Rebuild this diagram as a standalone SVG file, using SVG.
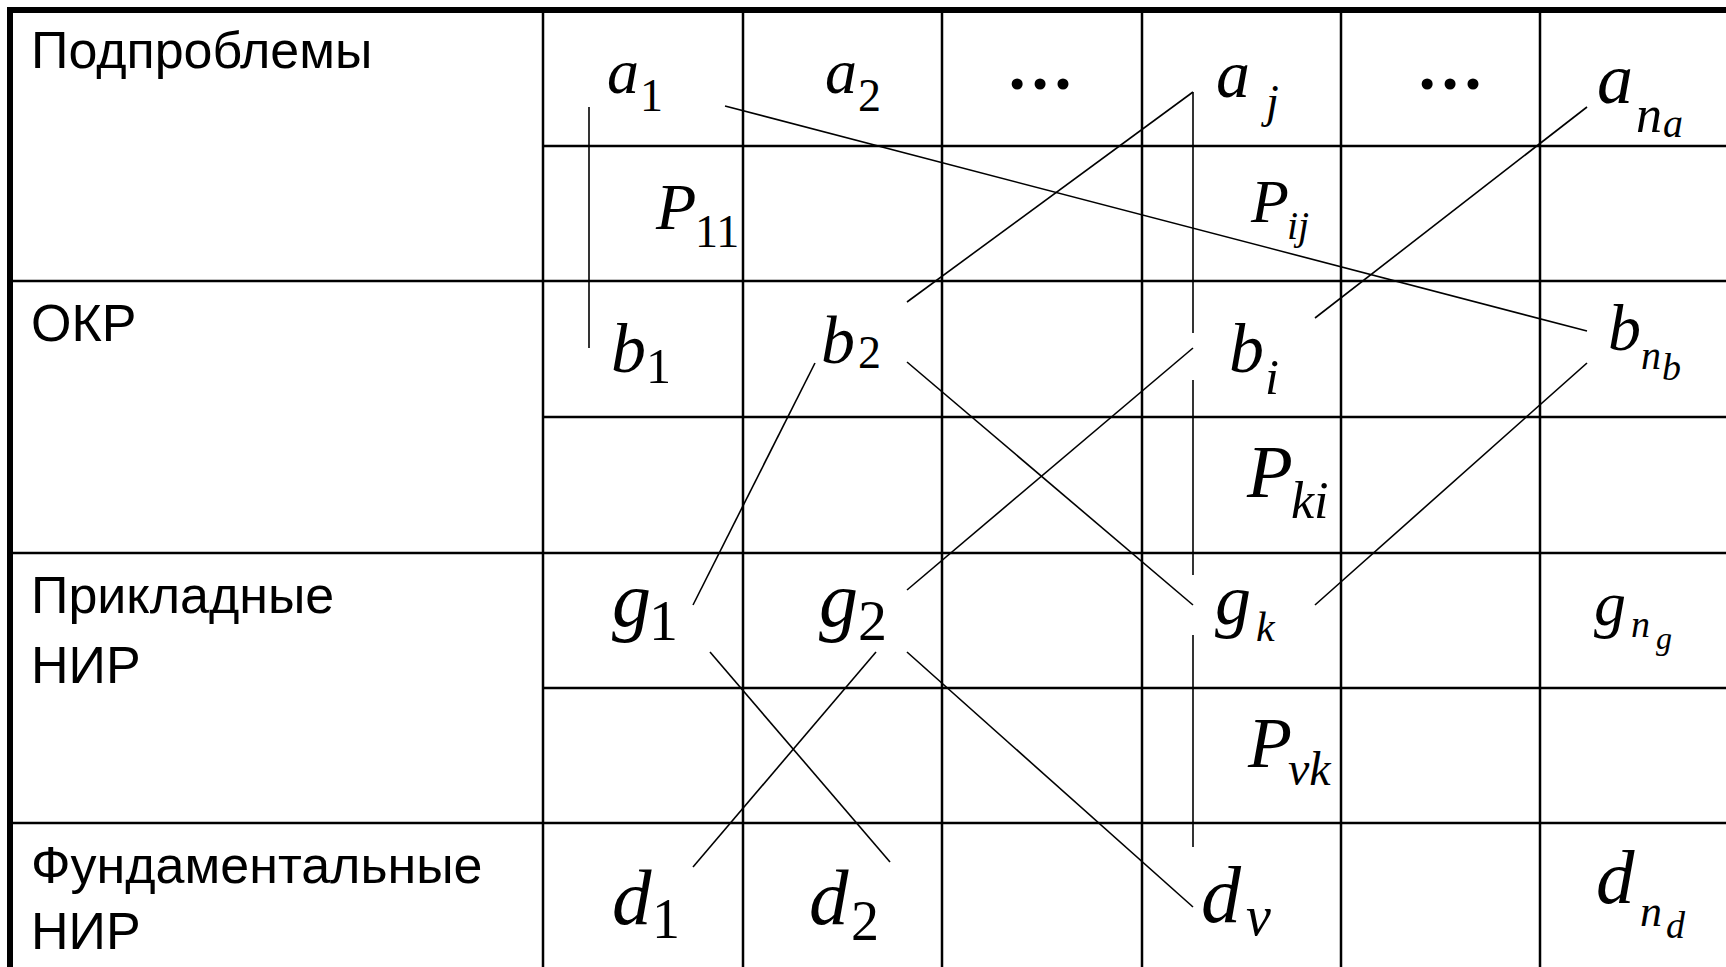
<svg xmlns="http://www.w3.org/2000/svg" width="1726" height="967" viewBox="0 0 1726 967">
<style>
.grid{stroke:#000;stroke-width:2.5;fill:none}
.border{stroke:#000;stroke-width:6;fill:none}
.conn{stroke:#000;stroke-width:1.6;fill:none}
.lbl{font-family:"Liberation Sans",Arial,Helvetica,sans-serif;font-size:52px;fill:#000}
.m{font-family:"Liberation Serif","Times New Roman",Times,serif;font-style:italic;fill:#000}
.d{font-family:"Liberation Serif","Times New Roman",Times,serif;font-style:normal;fill:#000}
</style>
<rect width="1726" height="967" fill="#fff"/>
<g id="grid">
<line class="grid" x1="543" y1="146" x2="1726" y2="146"/>
<line class="grid" x1="10" y1="281" x2="1726" y2="281"/>
<line class="grid" x1="543" y1="417" x2="1726" y2="417"/>
<line class="grid" x1="10" y1="553" x2="1726" y2="553"/>
<line class="grid" x1="543" y1="688" x2="1726" y2="688"/>
<line class="grid" x1="10" y1="823" x2="1726" y2="823"/>
<line class="grid" x1="543" y1="10" x2="543" y2="967"/>
<line class="grid" x1="743" y1="10" x2="743" y2="967"/>
<line class="grid" x1="942" y1="10" x2="942" y2="967"/>
<line class="grid" x1="1142" y1="10" x2="1142" y2="967"/>
<line class="grid" x1="1341" y1="10" x2="1341" y2="967"/>
<line class="grid" x1="1540" y1="10" x2="1540" y2="967"/>
<line class="border" x1="7" y1="10" x2="1726" y2="10"/>
<line class="border" x1="10" y1="7" x2="10" y2="967"/>
</g>
<g id="row-labels">
<text class="lbl" x="31" y="68">Подпроблемы</text>
<text class="lbl" x="31" y="341">ОКР</text>
<text class="lbl" x="31" y="613">Прикладные</text>
<text class="lbl" x="31" y="683">НИР</text>
<text class="lbl" x="31" y="883">Фундаментальные</text>
<text class="lbl" x="31" y="949">НИР</text>
</g>
<g id="connectors">
<line class="conn" x1="589" y1="107" x2="589" y2="348"/>
<line class="conn" x1="725" y1="106" x2="1587" y2="331"/>
<line class="conn" x1="1193" y1="92" x2="907" y2="302"/>
<line class="conn" x1="1193" y1="92" x2="1193" y2="333"/>
<line class="conn" x1="1193" y1="380" x2="1193" y2="575"/>
<line class="conn" x1="1193" y1="635" x2="1193" y2="847"/>
<line class="conn" x1="1587" y1="107" x2="1315" y2="318"/>
<line class="conn" x1="815" y1="363" x2="693" y2="605"/>
<line class="conn" x1="907" y1="362" x2="1193" y2="605"/>
<line class="conn" x1="1193" y1="348" x2="907" y2="590"/>
<line class="conn" x1="1587" y1="363" x2="1315" y2="605"/>
<line class="conn" x1="710" y1="652" x2="890" y2="862"/>
<line class="conn" x1="876" y1="652" x2="693" y2="867"/>
<line class="conn" x1="907" y1="652" x2="1193" y2="907"/>
</g>
<g id="a1"><text class="m" x="607" y="93" font-size="64">a</text><text class="d" x="640" y="111" font-size="46">1</text></g>
<g id="a2"><text class="m" x="825" y="93" font-size="64">a</text><text class="d" x="858" y="111" font-size="46">2</text></g>
<g id="dots1"><text class="d" x="1040" y="89" font-size="68" text-anchor="middle" font-weight="bold">…</text></g>
<g id="aj"><text class="m" x="1216" y="97" font-size="68">a</text><text class="m" x="1266" y="117" font-size="46">j</text></g>
<g id="dots2"><text class="d" x="1450" y="89" font-size="68" text-anchor="middle" font-weight="bold">…</text></g>
<g id="ana"><text class="m" x="1597" y="103" font-size="72">a</text><text class="m" x="1636" y="132" font-size="52">n</text><text class="m" x="1663" y="137" font-size="40">a</text></g>
<g id="P11"><text class="m" x="656" y="229" font-size="66">P</text><text class="d" x="695" y="247" font-size="46">11</text></g>
<g id="Pij"><text class="m" x="1251" y="222" font-size="62">P</text><text class="m" x="1287" y="239" font-size="40">ij</text></g>
<g id="b1"><text class="m" x="611" y="372" font-size="70">b</text><text class="d" x="646" y="383" font-size="50">1</text></g>
<g id="b2"><text class="m" x="821" y="363" font-size="68">b</text><text class="d" x="858" y="368" font-size="46">2</text></g>
<g id="bi"><text class="m" x="1229" y="372" font-size="70">b</text><text class="m" x="1265" y="394" font-size="50">i</text></g>
<g id="bnb"><text class="m" x="1608" y="350" font-size="66">b</text><text class="m" x="1641" y="369" font-size="40">n</text><text class="m" x="1662" y="380" font-size="38">b</text></g>
<g id="Pki"><text class="m" x="1247" y="497" font-size="75">P</text><text class="m" x="1291" y="518" font-size="52">ki</text></g>
<g id="g1"><text class="m" x="612" y="626" font-size="78">g</text><text class="d" x="649" y="640" font-size="58">1</text></g>
<g id="g2"><text class="m" x="819" y="626" font-size="78">g</text><text class="d" x="858" y="640" font-size="58">2</text></g>
<g id="gk"><text class="m" x="1215" y="624" font-size="72">g</text><text class="m" x="1256" y="641" font-size="42">k</text></g>
<g id="gng"><text class="m" x="1594" y="625" font-size="64">g</text><text class="m" x="1631" y="637" font-size="38">n</text><text class="m" x="1656" y="649" font-size="32">g</text></g>
<g id="Pvk"><text class="m" x="1248" y="767" font-size="72">P</text><text class="m" x="1288" y="785" font-size="48">vk</text></g>
<g id="d1"><text class="m" x="612" y="924" font-size="79">d</text><text class="d" x="652" y="938" font-size="56">1</text></g>
<g id="d2"><text class="m" x="809" y="924" font-size="79">d</text><text class="d" x="851" y="940" font-size="56">2</text></g>
<g id="dv"><text class="m" x="1201" y="922" font-size="80">d</text><text class="m" x="1246" y="935" font-size="56">v</text></g>
<g id="dnd"><text class="m" x="1596" y="903" font-size="77">d</text><text class="m" x="1640" y="926" font-size="44">n</text><text class="m" x="1666" y="938" font-size="38">d</text></g>
</svg>
